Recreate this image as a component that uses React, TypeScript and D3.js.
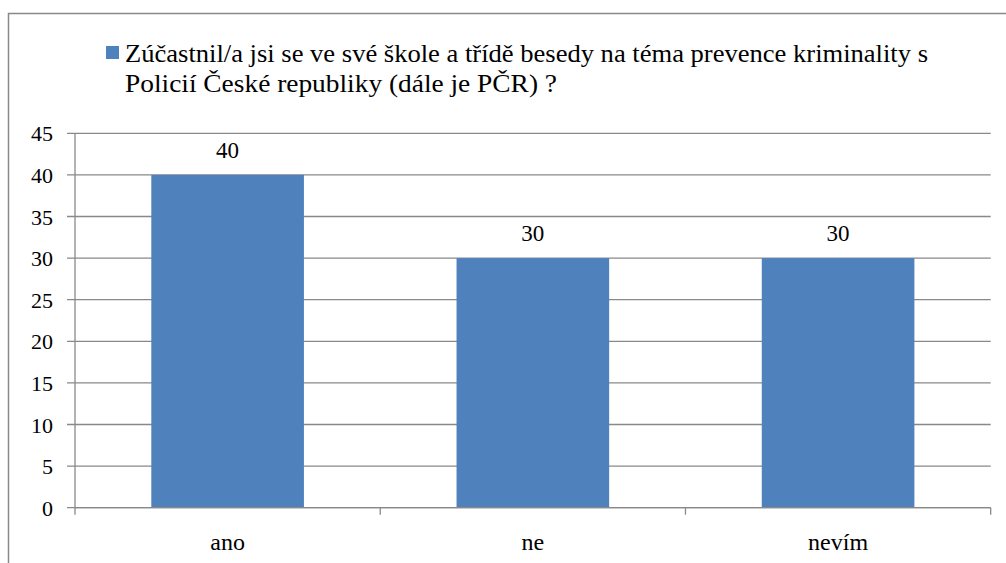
import React from "react";
import * as d3 from "d3";

const categories = ["ano", "ne", "nevím"];
const values = [40, 30, 30];
const yTicks = [0, 5, 10, 15, 20, 25, 30, 35, 40, 45];
const legendLines = [
  "Zúčastnil/a jsi se ve své škole a třídě besedy na téma prevence kriminality s",
  "Policií České republiky (dále je PČR) ?",
];
const legendLineLengths = [803, 432];

const W = 1006;
const H = 563;
const plot = { left: 75, right: 990.7, top: 133.3, bottom: 507.7 };
const font = '"Liberation Serif", "Times New Roman", Tinos, "DejaVu Serif", "Noto Serif", serif';
const gridColor = "#898989";
const barColor = "#4F81BD";

export default function App() {
  const x = d3
    .scaleBand<string>()
    .domain(categories)
    .range([plot.left, plot.right])
    .paddingInner(0.5)
    .paddingOuter(0.25);
  const y = d3.scaleLinear().domain([0, 45]).range([plot.bottom, plot.top]);
  const step = x.step();
  const boundaries = d3.range(categories.length + 1).map((i) => plot.left + i * step);

  return (
    <svg width={W} height={H} style={{ position: "absolute", left: 0, top: 0, background: "#fff" }}>
      <style>{`text { font-family: ${font}; fill: #000; }`}</style>
      <rect x={8.5} y={13.5} width={W + 20} height={H + 20} fill="#fff" stroke={gridColor} strokeWidth={1.5} />
      {/* legend */}
      <rect x={106} y={46} width={13} height={13} fill={barColor} />
      {legendLines.map((l, i) => (
        <text
          key={i}
          x={125}
          y={61.5 + i * 30}
          fontSize={25}
          textLength={legendLineLengths[i]}
          lengthAdjust="spacingAndGlyphs"
        >
          {l}
        </text>
      ))}
      {/* gridlines */}
      {yTicks.map((t) => (
        <g key={t}>
          <line x1={67} x2={plot.right} y1={y(t)} y2={y(t)} stroke={gridColor} strokeWidth={1.3} />
          <text x={53} y={y(t) + 8} textAnchor="end" fontSize={22}>
            {t}
          </text>
        </g>
      ))}
      {/* bars */}
      {categories.map((c, i) => (
        <g key={c}>
          <rect x={x(c)} y={y(values[i])} width={x.bandwidth()} height={y(0) - y(values[i])} fill={barColor} />
          <text x={x(c)! + x.bandwidth() / 2} y={y(values[i]) - 17} textAnchor="middle" fontSize={23}>
            {values[i]}
          </text>
          <text x={x(c)! + x.bandwidth() / 2} y={550} textAnchor="middle" fontSize={24}>
            {c}
          </text>
        </g>
      ))}
      {/* axes */}
      <line x1={plot.left} x2={plot.left} y1={plot.top} y2={plot.bottom} stroke={gridColor} strokeWidth={1.3} />
      <line x1={plot.left} x2={plot.right} y1={plot.bottom} y2={plot.bottom} stroke={gridColor} strokeWidth={1.3} />
      {boundaries.map((b, i) => (
        <line key={i} x1={b} x2={b} y1={plot.bottom} y2={plot.bottom + 7} stroke={gridColor} strokeWidth={1.3} />
      ))}
    </svg>
  );
}
